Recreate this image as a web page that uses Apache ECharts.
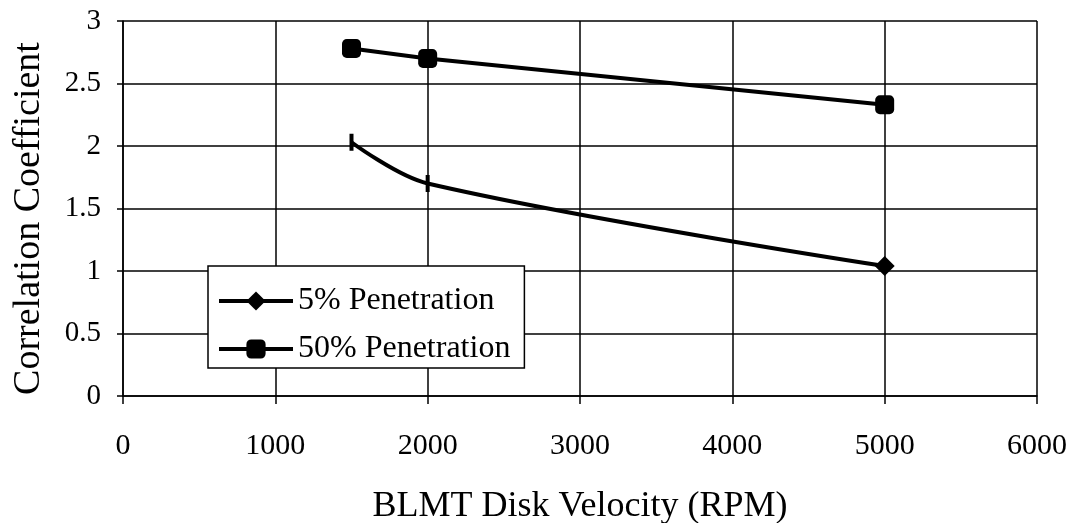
<!DOCTYPE html>
<html>
<head>
<meta charset="utf-8">
<script src="https://cdn.jsdelivr.net/npm/echarts@6/dist/echarts.min.js"></script>
<style>
html, body { margin: 0; padding: 0; background: #fff; }
#chart { width: 1069px; height: 523px; }
</style>
</head>
<body>
<div id="chart"></div>
<script>
var rpm = [1500, 2000, 5000];
var pen5 = [2.03, 1.70, 1.04];
var pen50 = [2.78, 2.70, 2.33];
var xTicks = [0, 1000, 2000, 3000, 4000, 5000, 6000];

var font = '"Liberation Serif", "Times New Roman", serif';
var chart = echarts.init(document.getElementById('chart'));

function pairs(xs, ys) {
  return xs.map(function (x, i) { return [x, ys[i]]; });
}

// the first two diamonds of the 5% series are printed as thin vertical bars
var pen5Data = pairs(rpm, pen5).map(function (p, i) {
  if (i < 2) return { value: p, symbol: 'rect', symbolSize: [4, 17] };
  return { value: p };
});

var option = {
  backgroundColor: '#fff',
  animation: false,
  grid: { left: 123, right: 32, top: 21, bottom: 127, outerBoundsMode: 'none' },
  xAxis: {
    type: 'value', min: 0, max: 6000, interval: 1000,
    name: 'BLMT Disk Velocity (RPM)', nameLocation: 'middle', nameGap: 93,
    nameTextStyle: { fontFamily: font, fontSize: 36, color: '#000' },
    axisLine: { lineStyle: { color: '#000', width: 1.5 } },
    axisTick: { show: true, length: 8, lineStyle: { color: '#000', width: 1.5 } },
    axisLabel: { fontFamily: font, fontSize: 30, color: '#000', margin: 35,
      formatter: function (v) { return xTicks.indexOf(v) >= 0 ? String(v) : ''; } },
    splitLine: { show: true, lineStyle: { color: '#000', width: 1.5 } }
  },
  yAxis: {
    type: 'value', min: 0, max: 3, interval: 0.5,
    name: 'Correlation Coefficient', nameLocation: 'middle', nameGap: 75,
    nameTextStyle: { fontFamily: font, fontSize: 38, color: '#000', padding: [0, 20, 0, 0] },
    axisLine: { show: true, lineStyle: { color: '#000', width: 1.5 } },
    axisTick: { show: true, length: 6, lineStyle: { color: '#000', width: 1.5 } },
    axisLabel: { fontFamily: font, fontSize: 29, color: '#000', margin: 22 },
    splitLine: { show: true, lineStyle: { color: '#000', width: 1.5 } }
  },
  legend: {
    left: 208, top: 266, orient: 'vertical',
    padding: [19, 14, 3, 9], itemGap: 16,
    itemWidth: 74, itemHeight: 24,
    backgroundColor: '#fff', borderColor: '#000', borderWidth: 1.5,
    lineStyle: { width: 4 },
    textStyle: { fontFamily: font, fontSize: 32, color: '#000' },
    data: ['5% Penetration', '50% Penetration']
  },
  series: [
    {
      name: '5% Penetration', type: 'line', smooth: 0.35,
      data: pen5Data, symbol: 'diamond', symbolSize: 20,
      lineStyle: { color: '#000', width: 4 },
      itemStyle: { color: '#000' }
    },
    {
      name: '50% Penetration', type: 'line',
      data: pairs(rpm, pen50), symbol: 'roundRect', symbolSize: 19,
      lineStyle: { color: '#000', width: 4 },
      itemStyle: { color: '#000' }
    }
  ]
};
chart.setOption(option);
</script>
</body>
</html>
